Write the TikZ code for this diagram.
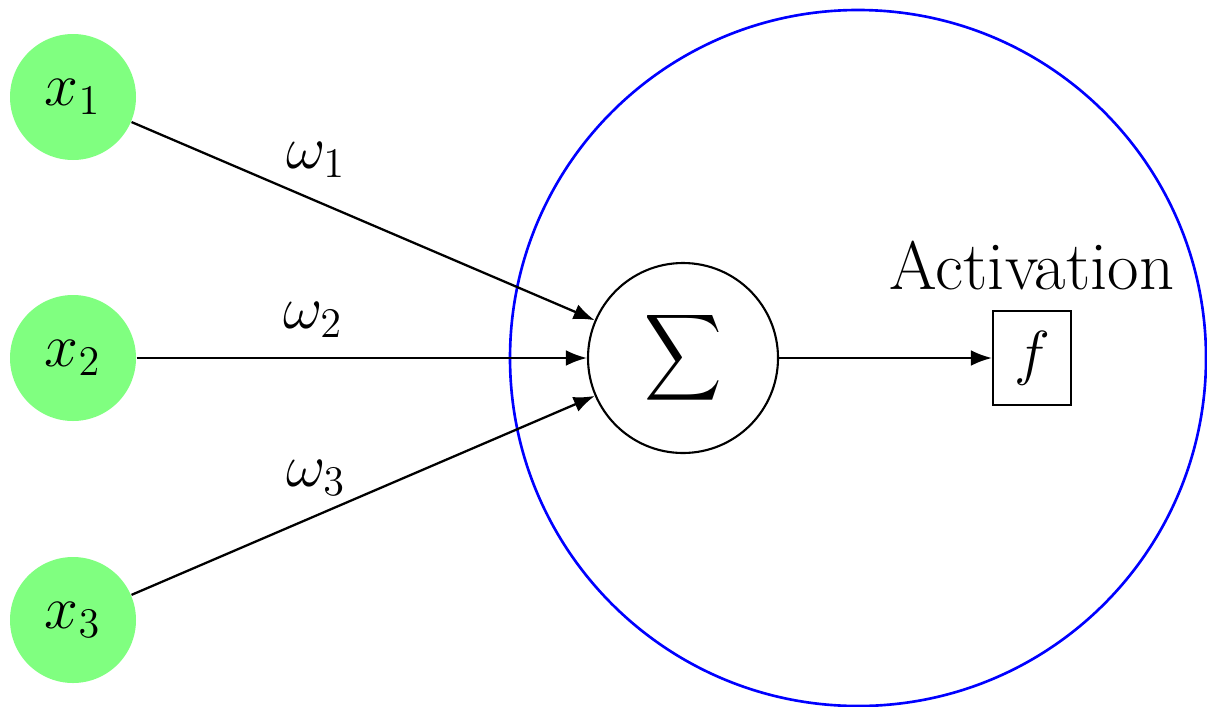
\documentclass[tikz,border=0pt]{standalone}
\usetikzlibrary{arrows.meta}
\begin{document}
\begin{tikzpicture}[x=0.01cm,y=-0.01cm,
  inp/.style={circle,fill=green!50,draw=none,minimum size=126*0.01cm,inner sep=0pt,font=\LARGE},
  sumnode/.style={circle,draw,line width=0.6pt,minimum size=190*0.01cm,inner sep=0pt},
  actbox/.style={draw,line width=0.6pt,minimum width=78*0.01cm,minimum height=94*0.01cm,inner sep=0pt},
  conn/.style={line width=0.65pt,-{Latex[length=6pt,width=4.5pt]}},
  lbl/.style={font=\LARGE}]
\useasboundingbox (0,0) rectangle (1207,706);
\draw[blue,line width=0.75pt] (858,358) circle[radius=348];
\node[inp] (x1) at (73,97) {$x_1$};
\node[inp] (x2) at (73,358) {$x_2$};
\node[inp] (x3) at (73,620) {$x_3$};
\node[sumnode] (s) at (683,358) {\scalebox{1.53}[1.72]{$\displaystyle\sum$}};
\node[actbox,font=\LARGE] (f) at (1032,358) {$f$};
\node[font=\fontsize{19.5}{22}\selectfont] (act) at (1032,266) {Activation};
\draw[conn] (x1) -- (s);
\draw[conn] (x2) -- (s);
\draw[conn] (x3) -- (s);
\draw[conn] (s) -- (f);
\node[lbl] (w1) at (316,160) {$\omega_1$};
\node[lbl] (w2) at (313,320) {$\omega_2$};
\node[lbl] (w3) at (316,478) {$\omega_3$};
\end{tikzpicture}
\end{document}
